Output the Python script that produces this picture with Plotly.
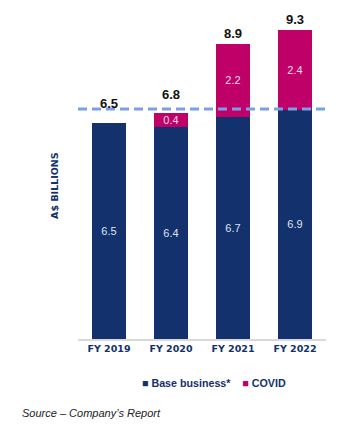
import plotly.graph_objects as go

categories = ["FY 2019", "FY 2020", "FY 2021", "FY 2022"]
base_business = [6.5, 6.4, 6.7, 6.9]
covid = [0.0, 0.4, 2.2, 2.4]
totals = [6.5, 6.8, 8.9, 9.3]
reference_level = 6.93

NAVY = "#13316C"
MAGENTA = "#BE0068"

fig = go.Figure()
fig.add_trace(go.Bar(
    x=categories, y=base_business, name="Base business*",
    marker=dict(color=NAVY, line=dict(width=0)),
    text=[f"{v:.1f}" for v in base_business], textposition="inside",
    insidetextanchor="middle", textangle=0,
    textfont=dict(family="Liberation Sans", size=11, color="#dfe4ee"),
))
fig.add_trace(go.Bar(
    x=categories, y=covid, name="COVID",
    marker=dict(color=MAGENTA, line=dict(width=0)),
    text=[f"{v:.1f}" if v > 0 else "" for v in covid], textposition="inside",
    insidetextanchor="middle", textangle=0,
    textfont=dict(family="Liberation Sans", size=11, color="#f3dbe8"),
))

label_shift = [20, 19, 10, 11]
for c, t, s in zip(categories, totals, label_shift):
    fig.add_annotation(x=c, y=t, text=f"<b>{t:.1f}</b>", showarrow=False,
                       yanchor="middle", yshift=s,
                       font=dict(family="Liberation Sans", size=13, color="#111111"))

fig.add_shape(type="line", xref="paper", x0=0, x1=1, yref="y",
              y0=reference_level, y1=reference_level,
              line=dict(color="#7B9FE6", width=3, dash="9px,5px"))

fig.add_annotation(xref="paper", yref="paper", x=-0.093, y=0.464,
                   text="<b>A$ BILLIONS</b>", textangle=-90, showarrow=False,
                   xanchor="center", yanchor="middle",
                   font=dict(family="DejaVu Sans", size=9.5, color=NAVY))

legend_text = (f"<span style='color:{NAVY}'>■</span> <b>Base business*</b>"
               f"    <span style='color:{MAGENTA}'>■</span> <b>COVID</b>")
fig.add_annotation(xref="paper", yref="paper", x=0.55, y=-0.1325,
                   text=legend_text, showarrow=False,
                   xanchor="center", yanchor="middle",
                   font=dict(family="Liberation Sans", size=10.7, color=NAVY))

fig.add_annotation(xref="paper", yref="paper", x=-0.234, y=-0.223,
                   text="<i>Source – Company’s Report</i>", showarrow=False,
                   xanchor="left", yanchor="middle",
                   font=dict(family="Liberation Sans", size=11, color="#222222"))

fig.update_layout(
    barmode="stack", bargap=0.44,
    width=340, height=424,
    margin=dict(l=78, r=14, t=7, b=85),
    plot_bgcolor="white", paper_bgcolor="white",
    showlegend=False,
    uniformtext=dict(minsize=10, mode="show"),
)
fig.update_xaxes(showline=True, linecolor="#d9d9d9", linewidth=1.5,
                 ticks="", showgrid=False,
                 tickfont=dict(family="DejaVu Sans", size=9.5, color=NAVY, weight="bold"))
fig.update_yaxes(range=[0, 10], visible=False, showgrid=False)

fig.write_html("out.html")
